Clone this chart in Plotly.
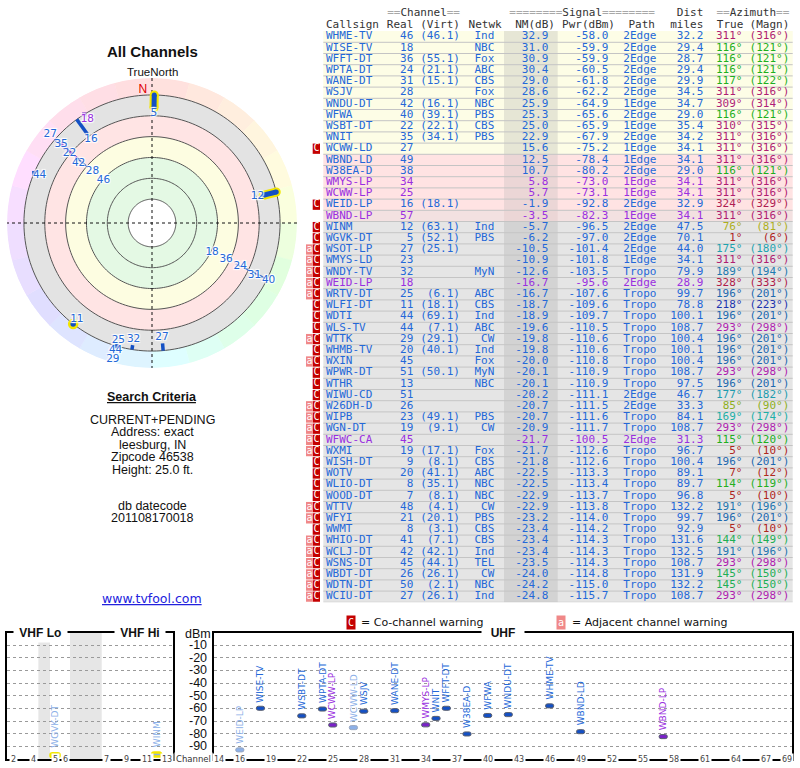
import colorsys
import numpy as np
import plotly.graph_objects as go

W, H = 800, 768
def px(x): return x / W
def py(y): return 1 - y / H

# ---------------- data ----------------
callsigns = ["WHME-TV","WISE-TV","WFFT-DT","WPTA-DT","WANE-DT","WSJV","WNDU-DT","WFWA","WSBT-DT","WNIT",
             "WCWW-LD","WBND-LD","W38EA-D","WMYS-LP","WCWW-LP","WEID-LP","WBND-LP","WINM","WGVK-DT","WSOT-LP",
             "WMYS-LD","WNDY-TV","WEID-LP","WRTV-DT","WLFI-DT","WDTI","WLS-TV","WTTK","WHMB-TV","WXIN",
             "WPWR-DT","WTHR","WIWU-CD","W26DH-D","WIPB","WGN-DT","WFWC-CA","WXMI","WISH-DT","WOTV",
             "WLIO-DT","WOOD-DT","WTTV","WFYI","WWMT","WHIO-DT","WCLJ-DT","WSNS-DT","WBDT-DT","WDTN-DT","WCIU-DT"]
real_ch = [46,18,36,24,31,28,42,40,22,35,
           27,49,38,34,25,16,57,12,5,27,
           23,32,18,25,11,44,44,29,20,45,
           51,13,51,26,23,19,45,19,9,20,
           8,7,48,21,8,41,42,45,26,50,27]
virt_ch = ["46.1",None,"55.1","21.1","15.1",None,"16.1","39.1","22.1","34.1",
           None,None,None,None,None,"18.1",None,"63.1","52.1","25.1",
           None,None,None,"6.1","18.1","69.1","7.1","29.1","40.1",None,
           "50.1",None,None,None,"49.1","9.1",None,"17.1","8.1","41.1",
           "35.1","8.1","4.1","20.1","3.1","7.1","42.1","44.1","26.1","2.1","26.1"]
network = ["Ind","NBC","Fox","ABC","CBS","Fox","NBC","PBS","CBS","PBS",
           "","","","","","","","Ind","PBS","",
           "","MyN","","ABC","CBS","Ind","ABC","CW","Ind","Fox",
           "MyN","NBC","","","PBS","CW","","Fox","CBS","ABC",
           "NBC","NBC","CW","PBS","CBS","CBS","Ind","TEL","CW","NBC","Ind"]
nm_db = [32.9,31.0,30.9,30.4,29.0,28.6,25.9,25.3,25.0,22.9,
         15.6,12.5,10.7,5.8,5.7,-1.9,-3.5,-5.7,-6.2,-10.5,
         -10.9,-12.6,-16.7,-16.7,-18.7,-18.9,-19.6,-19.8,-19.8,-20.0,
         -20.1,-20.1,-20.2,-20.7,-20.7,-20.9,-21.7,-21.7,-21.8,-22.5,
         -22.5,-22.9,-22.9,-23.2,-23.4,-23.4,-23.4,-23.5,-24.0,-24.2,-24.8]
pwr_dbm = [-58.0,-59.9,-59.9,-60.5,-61.8,-62.2,-64.9,-65.6,-65.9,-67.9,
           -75.2,-78.4,-80.2,-73.0,-73.1,-92.8,-82.3,-96.5,-97.0,-101.4,
           -101.8,-103.5,-95.6,-107.6,-109.6,-109.7,-110.5,-110.6,-110.6,-110.8,
           -110.9,-110.9,-111.1,-111.5,-111.6,-111.7,-100.5,-112.6,-112.6,-113.3,
           -113.4,-113.7,-113.8,-114.0,-114.2,-114.3,-114.3,-114.3,-114.8,-115.0,-115.7]
path_type = ["2Edge","2Edge","2Edge","2Edge","2Edge","2Edge","1Edge","2Edge","1Edge","2Edge",
             "1Edge","1Edge","2Edge","1Edge","1Edge","2Edge","1Edge","2Edge","2Edge","2Edge",
             "1Edge","Tropo","2Edge","Tropo","Tropo","Tropo","Tropo","Tropo","Tropo","Tropo",
             "Tropo","Tropo","2Edge","2Edge","Tropo","Tropo","2Edge","Tropo","Tropo","Tropo",
             "Tropo","Tropo","Tropo","Tropo","Tropo","Tropo","Tropo","Tropo","Tropo","Tropo","Tropo"]
dist_mi = [32.2,29.4,28.7,29.4,29.9,34.5,34.7,29.0,35.4,34.2,
           34.1,34.1,29.0,34.1,34.1,32.9,34.1,47.5,70.1,44.0,
           34.1,79.9,28.9,99.7,78.8,100.1,108.7,100.4,100.1,100.4,
           108.7,97.5,46.7,33.3,84.1,108.7,31.3,96.7,100.4,89.1,
           89.7,96.8,132.2,99.7,92.9,131.6,132.5,108.7,131.9,132.2,108.7]
az_true = [311,116,116,116,117,311,309,116,310,311,
           311,311,116,311,311,324,311,76,1,175,
           311,189,328,196,218,196,293,196,196,196,
           293,196,177,85,169,293,115,5,196,7,
           114,5,191,196,5,144,191,293,145,145,293]
az_magn = [316,121,121,121,122,316,314,121,315,316,
           316,316,121,316,316,329,316,81,6,180,
           316,194,333,201,223,201,298,201,201,201,
           298,201,182,90,174,298,120,10,201,12,
           119,10,196,201,10,149,196,298,150,150,298]
warn_flags = ["","","","","","","","","","",
              "C","","","","","C","","C","C","aC",
              "aC","aC","aC","aC","C","C","C","aC","C","aC",
              "C","C","C","aC","aC","aC","aC","aC","C","C",
              "C","C","aC","aC","C","aC","aC","aC","aC","aC","aC"]
lp_purple = [0,0,0,0,0,0,0,0,0,0,
             0,0,0,1,1,0,1,0,0,0,
             0,0,1,0,0,0,0,0,0,0,
             0,0,0,0,0,0,1,0,0,0,
             0,0,0,0,0,0,0,0,0,0,0]

vhf_tick_channels = [2, 4, 5, 6, 7, 9, 11, 13]
uhf_tick_channels = [14,16,19,22,25,28,31,34,37,40,43,46,49,52,55,58,61,64,67,69]
dbm_ticks = [-10,-20,-30,-40,-50,-60,-70,-80,-90]
search_lines = ["CURRENT+PENDING", "Address: exact", "leesburg, IN", "Zipcode 46538", "Height: 25.0 ft."]
datecode_lines = ["db datecode", "201108170018"]

# ---------------- styles ----------------
MONO = "DejaVu Sans Mono"
SANS = "DejaVu Sans"
ARIAL = "Liberation Sans"
BLUE = "#2468d8"
PURPLE = "#9a2fe0"
BAR_BLUE = "#1450c4"
BAR_PURPLE = "#7a22c8"
LIGHT_BLUE = "#8cb0e8"

def hsl(h, s, l):
    r, g, b = colorsys.hls_to_rgb((h % 360) / 360.0, l, s)
    return "#%02x%02x%02x" % (round(r * 255), round(g * 255), round(b * 255))

HUE_AZ = [0, 76, 116, 145, 182, 218, 293, 311, 326, 360]
HUE_H = [0, 60, 120, 143, 195, 230, 300, 325, 340, 360]
def az_hue(a): return float(np.interp(a % 360, HUE_AZ, HUE_H))
def az_text_color(a): return hsl(az_hue(a), 0.72, 0.40)
def az_ring_color(a): return hsl(az_hue(a), 1.0, 0.935)

n = len(callsigns)
rows = list(range(n))
fig = go.Figure()

# ---------------- polar (radial unit = -NM dB) ----------------
R0, R_OUT = -82.3, 29.0
K = 145.0 / (R_OUT - R0)
def u2p(u): return (u - R0) * K
def p2u(p): return p / K + R0

sect = np.arange(7.5, 360, 15)
fig.add_trace(go.Barpolar(theta=sect, width=[15] * len(sect), base=[16] * len(sect),
                          r=[R_OUT - 16] * len(sect),
                          marker=dict(color=[az_ring_color(a) for a in sect],
                                      line=dict(color=[az_ring_color(a) for a in sect], width=0.5)),
                          hoverinfo="skip", showlegend=False, subplot="polar"))
circ = np.linspace(0, 360, 181)
for rv, col in [(16, "#e3e3e3"), (0, "#ffe4e4"), (-16, "#fdfde1"), (-32, "#e4f9e4"), (-64, "#ffffff")]:
    fig.add_trace(go.Scatterpolar(r=[rv] * len(circ), theta=circ, mode="lines", fill="toself",
                                  fillcolor=col, line=dict(width=0), hoverinfo="skip",
                                  showlegend=False, subplot="polar"))
ring_r, ring_t = [], []
for rv in [-64, -48, -32, -16, 0, 16]:
    ring_r += [rv] * len(circ) + [None]
    ring_t += list(circ) + [None]
fig.add_trace(go.Scatterpolar(r=ring_r, theta=ring_t, mode="lines", line=dict(color="#555", width=1),
                              hoverinfo="skip", showlegend=False, subplot="polar"))
fig.add_trace(go.Scatterpolar(r=[R_OUT, R0, R_OUT, None, R_OUT, R0, R_OUT],
                              theta=[0, 0, 180, None, 90, 90, 270], mode="lines",
                              line=dict(color="#111", width=1, dash="dot"),
                              hoverinfo="skip", showlegend=False, subplot="polar"))

order = sorted([i for i in rows if nm_db[i] > -20], key=lambda i: -nm_db[i])
for i in order:
    if nm_db[i] >= 20:
        continue
    u0 = -nm_db[i]
    col = BAR_PURPLE if lp_purple[i] else BAR_BLUE
    vhf = real_ch[i] <= 13
    if u0 < 16:
        if vhf:
            fig.add_trace(go.Scatterpolar(r=[u0, 16], theta=[az_true[i]] * 2, mode="lines+markers",
                                          line=dict(color="#f2e600", width=9),
                                          marker=dict(color="#f2e600", size=9),
                                          hoverinfo="skip", showlegend=False, subplot="polar"))
            fig.add_trace(go.Scatterpolar(r=[u0, 16], theta=[az_true[i]] * 2, mode="lines+markers",
                                          line=dict(color=BAR_BLUE, width=5),
                                          marker=dict(color=BAR_BLUE, size=5),
                                          hoverinfo="skip", showlegend=False, subplot="polar"))
        else:
            fig.add_trace(go.Scatterpolar(r=[u0, 16], theta=[az_true[i]] * 2, mode="lines",
                                          line=dict(color=col, width=3.5 if nm_db[i] < 0 else 1.6),
                                          hoverinfo="skip", showlegend=False, subplot="polar"))
    else:
        if vhf:
            mk = dict(color=BAR_BLUE, size=8, line=dict(color="#f2e600", width=2.5))
        else:
            mk = dict(color=col, size=4, symbol="square")
        fig.add_trace(go.Scatterpolar(r=[16], theta=[az_true[i]], mode="markers", marker=mk,
                                      hoverinfo="skip", showlegend=False, subplot="polar"))

placed = []
lab_r, lab_t, lab_s, lab_c = [], [], [], []
for i in order:
    u = min(-nm_db[i], 16)
    p = u2p(u) - (6 if nm_db[i] < 20 else 0)
    a = np.radians(az_true[i])
    s = str(real_ch[i])
    w = 6.4 * len(s) + 1
    while p <= 143:
        x, y = p * np.sin(a), -p * np.cos(a)
        if all(abs(x - x2) >= (w + w2) / 2 or abs(y - y2) >= 9.5 for x2, y2, w2 in placed):
            break
        p += 0.5
    else:
        continue
    placed.append((x, y, w))
    lab_r.append(p2u(p)); lab_t.append(az_true[i]); lab_s.append(s)
    lab_c.append(PURPLE if lp_purple[i] else BLUE)
halo = "1px 1px 1px #fff, -1px -1px 1px #fff, 1px -1px 1px #fff, -1px 1px 1px #fff"
fig.add_trace(go.Scatterpolar(r=lab_r, theta=lab_t, text=lab_s, mode="text",
                              textfont=dict(family=SANS, size=10.5, color=lab_c, shadow=halo),
                              hoverinfo="skip", showlegend=False, subplot="polar"))
fig.add_trace(go.Scatterpolar(r=[p2u(133)], theta=[-4], text=["N"], mode="text",
                              textfont=dict(family=ARIAL, size=12, color="#e00000"),
                              hoverinfo="skip", showlegend=False, subplot="polar"))

# ---------------- table ----------------
def row_bg(v):
    if v >= 15: return "#fdfde6"
    if v > -3: return "#ffe3e3"
    if v > -5: return "#f3e1e1"
    return "#e5e5e5"
def nm_bg(v):
    if v >= 15: return "#e6e6d5"
    if v > -5: return "#ebd6d6"
    return "#d3d3d3"

fig.add_trace(go.Bar(y=rows, x=[469.4] * n, base=[323.3] * n, orientation="h", width=1.0,
                     marker=dict(color=[row_bg(v) for v in nm_db], line=dict(width=0)),
                     hoverinfo="skip", showlegend=False, xaxis="x", yaxis="y"))
fig.add_trace(go.Bar(y=rows, x=[53.7] * n, base=[504] * n, orientation="h", width=1.0,
                     marker=dict(color=[nm_bg(v) for v in nm_db], line=dict(width=0)),
                     hoverinfo="skip", showlegend=False, xaxis="x", yaxis="y"))
c_rows = [i for i in rows if "C" in warn_flags[i]]
a_rows = [i for i in rows if "a" in warn_flags[i]]
fig.add_trace(go.Bar(y=c_rows, x=[7.3] * len(c_rows), base=[312.7] * len(c_rows), orientation="h",
                     width=0.92, marker=dict(color="#c40000", line=dict(width=0)),
                     hoverinfo="skip", showlegend=False, xaxis="x", yaxis="y"))
fig.add_trace(go.Bar(y=a_rows, x=[6.7] * len(a_rows), base=[306] * len(a_rows), orientation="h",
                     width=0.92, marker=dict(color="#f08888", line=dict(width=0)),
                     hoverinfo="skip", showlegend=False, xaxis="x", yaxis="y"))

sep_x, sep_y = [], []
for i in rows:
    sep_x += [323.3, 792.7, None]
    sep_y += [i + 0.5, i + 0.5, None]
fig.add_trace(go.Scatter(x=sep_x, y=sep_y, mode="lines", line=dict(color="#c4c4c4", width=1),
                         hoverinfo="skip", showlegend=False, xaxis="x", yaxis="y"))

def add_text(x, y, text, colors, pos, size=11, family=MONO):
    fig.add_trace(go.Scatter(x=x, y=y, text=text, mode="text", textposition=pos,
                             textfont=dict(family=family, size=size, color=colors),
                             hoverinfo="skip", showlegend=False, cliponaxis=False,
                             xaxis="x", yaxis="y"))

add_text([316.4] * len(c_rows), c_rows, ["C"] * len(c_rows), "#ffffff", "middle center", size=10)
add_text([309.4] * len(a_rows), a_rows, ["a"] * len(a_rows), "#ffffff", "middle center", size=10)

tcol = [PURPLE if p else BLUE for p in lp_purple]
add_text([326] * n, rows, callsigns, tcol, "middle right")
add_text([413.3] * n, rows, [str(c) for c in real_ch], tcol, "middle left")
add_text([460] * n, rows, ["(%s)" % v if v else "" for v in virt_ch], tcol, "middle left")
add_text([494.3] * n, rows, network, tcol, "middle left")
add_text([548.3] * n, rows, ["%.1f" % v for v in nm_db], tcol, "middle left")
add_text([608.3] * n, rows, ["%.1f" % v for v in pwr_dbm], tcol, "middle left")
add_text([623.3] * n, rows, path_type, tcol, "middle right")
add_text([703.3] * n, rows, ["%.1f" % v for v in dist_mi], tcol, "middle left")
azc = [az_text_color(a) for a in az_true]
add_text([742.5] * n, rows, ["%d\u00b0" % a for a in az_true], azc, "middle left")
add_text([789.3] * n, rows, ["(%d\u00b0)" % a for a in az_magn], azc, "middle left")

G = "<span style='color:#a8a8a8'>%s</span>"
hdr1 = [("%sChannel%s" % (G % "==", G % "=="), 460),
        ("%sSignal%s" % (G % "========", G % "========"), 655),
        ("Dist", 703.3),
        ("%sAzimuth%s" % (G % "==", G % "=="), 789.3)]
add_text([h[1] for h in hdr1], [-2.05] * len(hdr1), [h[0] for h in hdr1], "#333333", "middle left")
hdr2 = [("Callsign", 326, "middle right"), ("Real", 413.3, "middle left"), ("(Virt)", 460, "middle left"),
        ("Netwk", 501.7, "middle left"), ("NM(dB)", 555, "middle left"), ("Pwr(dBm)", 615, "middle left"),
        ("Path", 655, "middle left"), ("miles", 703.3, "middle left"), ("True", 743.3, "middle left"),
        ("(Magn)", 789.3, "middle left")]
add_text([h[1] for h in hdr2], [-1.0] * len(hdr2), [h[0] for h in hdr2], "#333333",
         [h[2] for h in hdr2])

# ---------------- bottom spectrum chart ----------------
def vhf_x(ch):
    if ch <= 4: return 54 + (ch - 2) * 6 + 3
    if ch <= 6: return 76 + (ch - 5) * 6 + 6
    return 174 + (ch - 7) * 6 + 3 - 64

sel = [i for i in rows if pwr_dbm[i] >= -100 and nm_db[i] > -10]
def bar_fill(i):
    if "C" in warn_flags[i]: return LIGHT_BLUE
    return BAR_PURPLE if lp_purple[i] else BAR_BLUE
def lab_color(i):
    if "C" in warn_flags[i]: return LIGHT_BLUE
    return PURPLE if lp_purple[i] else BLUE

vsel = [i for i in sel if real_ch[i] <= 13]
usel = [i for i in sel if real_ch[i] > 13]
fig.add_trace(go.Bar(x=[vhf_x(real_ch[i]) for i in vsel], y=[3.2] * len(vsel),
                     base=[pwr_dbm[i] - 1.6 for i in vsel], width=5.5,
                     marker=dict(color=[bar_fill(i) for i in vsel], line=dict(color="#f2e600", width=2.5),
                                 cornerradius=3),
                     hoverinfo="skip", showlegend=False, xaxis="x2", yaxis="y2"))
fig.add_trace(go.Bar(x=[real_ch[i] for i in usel], y=[3.2] * len(usel),
                     base=[pwr_dbm[i] - 1.6 for i in usel], width=0.8,
                     marker=dict(color=[bar_fill(i) for i in usel],
                                 line=dict(color=["#9aa8c0" if "C" in warn_flags[i] else "#5a6070" for i in usel],
                                           width=1),
                                 cornerradius=2),
                     hoverinfo="skip", showlegend=False, xaxis="x3", yaxis="y3"))

ann = []
def note(x, y, text, size, color, family=ARIAL, xanchor="center", yanchor="middle",
         xref="paper", yref="paper", **kw):
    ann.append(dict(x=x, y=y, xref=xref, yref=yref, text=text, showarrow=False,
                    xanchor=xanchor, yanchor=yanchor,
                    font=dict(family=family, size=size, color=color), **kw))

for i in vsel:
    note(vhf_x(real_ch[i]), pwr_dbm[i], callsigns[i], 9, lab_color(i), SANS, yanchor="bottom",
         xref="x2", yref="y2", textangle=-90, yshift=5)
for i in usel:
    note(real_ch[i], pwr_dbm[i], callsigns[i], 9, lab_color(i), SANS, yanchor="bottom",
         xref="x3", yref="y3", textangle=-90, yshift=4)
for c in vhf_tick_channels:
    note(vhf_x(c), -100, str(c), 8, "#444", SANS, xref="x2", yref="y2", bgcolor="#ffffff", borderpad=1)
for c in uhf_tick_channels:
    note(c, -100, str(c), 8, "#444", SANS, xref="x3", yref="y3", bgcolor="#ffffff", borderpad=1)
for t in dbm_ticks:
    note(px(198), t, str(t), 12.5, "#111", yref="y3")
note(px(198), -1, "dBm", 12.5, "#111", yref="y3")
note(px(193), -100, "Channel", 8.5, "#333", SANS, yref="y3", bgcolor="#ffffff", borderpad=1)
NB = "\u00a0"
for txt, xc in [("VHF Lo", 40), ("VHF Hi", 140)]:
    note(px(xc), 0, "<b>%s%s%s</b>" % (NB, txt, NB), 12, "#111", yref="y2",
         bgcolor="#ffffff", borderpad=2)
note(px(503), 0, "<b>%s%sUHF%s%s</b>" % (NB, NB, NB, NB), 12, "#111", yref="y3",
     bgcolor="#ffffff", borderpad=2)
# warning legend
note(px(350.5), py(622.5), "C", 10, "#fff", MONO, bgcolor="#c40000", borderpad=1)
note(px(359), py(622.5), "= Co-channel warning", 11, "#111", SANS, xanchor="left")
note(px(560.5), py(622.5), "a", 10, "#fff", MONO, bgcolor="#f08888", borderpad=1)
note(px(570), py(622.5), "= Adjacent channel warning", 11, "#111", SANS, xanchor="left")

# ---------------- left texts ----------------
note(px(152), py(51), "<b>All Channels</b>", 15, "#111")
note(px(152), py(72.5), "TrueNorth", 11.5, "#111")
note(px(152), py(397), "<b><u>Search Criteria</u></b>", 12.5, "#111")
for k, t in enumerate(search_lines):
    note(px(152), py(419.5 + 12.5 * k), t, 12.5, "#111")
for k, t in enumerate(datecode_lines):
    note(px(152), py(506 + 12 * k), t, 12.5, "#111")
note(px(152), py(598), "<u>www.tvfool.com</u>", 12.5, "#2222dd", SANS)

shapes = [dict(type="rect", xref="x2", yref="y2", x0=72, x1=79, y0=-100, y1=0,
               fillcolor="#e6e6e6", line=dict(width=0), layer="below"),
          dict(type="rect", xref="x2", yref="y2", x0=91, x1=110, y0=-100, y1=0,
               fillcolor="#e6e6e6", line=dict(width=0), layer="below")]

ROW_PX = 11.2
ROW0 = 36.7
y_bot_px = ROW0 + 50.5 * ROW_PX
y_top_val = -ROW0 / ROW_PX
bot_dom = [9 / H, (H - 632.5) / H]
hidden = dict(visible=False, showgrid=False, zeroline=False)
frame = dict(showline=True, mirror=True, linewidth=2, linecolor="#000", zeroline=False,
             showticklabels=False, ticks="")

fig.update_layout(
    width=W, height=H, margin=dict(l=0, r=0, t=0, b=0),
    paper_bgcolor="#ffffff", plot_bgcolor="rgba(0,0,0,0)",
    showlegend=False, barmode="overlay", hovermode=False,
    polar=dict(domain=dict(x=[px(7), px(297)], y=[py(368), py(78)]), bgcolor="rgba(0,0,0,0)",
               radialaxis=dict(range=[R0, R_OUT], visible=False),
               angularaxis=dict(visible=False, rotation=90, direction="clockwise")),
    xaxis=dict(domain=[px(300), 1.0], range=[300, 800], **hidden),
    yaxis=dict(domain=[(H - y_bot_px) / H, 1.0], range=[50.5, y_top_val], **hidden),
    xaxis2=dict(domain=[px(6.7), px(173.3)], range=[53, 152.96], anchor="y2", showgrid=False, **frame),
    yaxis2=dict(domain=bot_dom, range=[-100, 0], anchor="x2", tickvals=dbm_ticks, showgrid=True,
                gridcolor="#9a9a9a", griddash="dot", gridwidth=1, **frame),
    xaxis3=dict(domain=[px(214), px(792.3)], range=[13.5, 69.5], anchor="y3", showgrid=False, **frame),
    yaxis3=dict(domain=bot_dom, range=[-100, 0], anchor="x3", tickvals=dbm_ticks, showgrid=True,
                gridcolor="#9a9a9a", griddash="dot", gridwidth=1, **frame),
    annotations=ann, shapes=shapes,
)

fig.write_html("out.html", config={"displayModeBar": False},
               post_script="document.body.style.margin='0';")
